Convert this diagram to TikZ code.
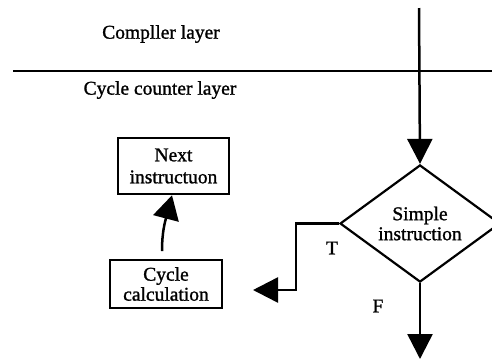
\documentclass[tikz,border=0pt]{standalone}
\usepackage{fontspec}
\setmainfont{Liberation Serif}[FakeBold=1.2]
\usetikzlibrary{arrows.meta,shapes.geometric}
\begin{document}
\begin{tikzpicture}[x=1pt,y=-1pt,
  lw/.style={line width=2.5pt},
  txt/.style={font=\fontsize{19.5}{22}\selectfont},
  boxnode/.style={draw,lw,txt,align=center,inner sep=0pt},
  bigarrow/.style={-{Triangle[length=25pt,width=25pt]}},
  ]
\useasboundingbox (0,0) rectangle (492,360);
% layers
\coordinate (vtop) at (419,8);
\coordinate (hl1) at (13,71);
\coordinate (hl2) at (495,71);
\draw[lw] (hl1) -- (hl2);
\node[txt] (comp) at (161,34) {Compller layer};
\node[txt] (cyc) at (160,90) {Cycle counter layer};
% diamond
\node[draw,line width=2.2pt,diamond,minimum width=160pt,minimum height=107pt,
      inner sep=0pt,txt,align=center] (d) at (420,223.5) {Simple\\[-2pt]instruction};
\draw[lw,bigarrow] (vtop) -- (d.north);
% boxes
\node[boxnode,minimum width=111pt,minimum height=56pt] (next) at (173.5,166) {Next\\instructuon};
\node[boxnode,minimum width=112pt,minimum height=48pt] (calc) at (166,284) {Cycle\\[-2pt]calculation};
% T branch
\coordinate (tend) at (253,290);
\draw[lw,bigarrow] (d.west) -- ++(-43,0) |- (tend);
\node[txt] (tl) at (332,248) {T};
% F branch
\coordinate (fend) at (420,359);
\draw[lw,bigarrow] (d.south) -- (fend);
\node[txt] (fl) at (378,306) {F};
% curved arrow
\coordinate (cstart) at (162,251);
\draw[lw,-{Triangle[length=24pt,width=26pt]}] (cstart) .. controls (162,232) and (165,222) .. (next.south -| 172,0);
\end{tikzpicture}
\end{document}
